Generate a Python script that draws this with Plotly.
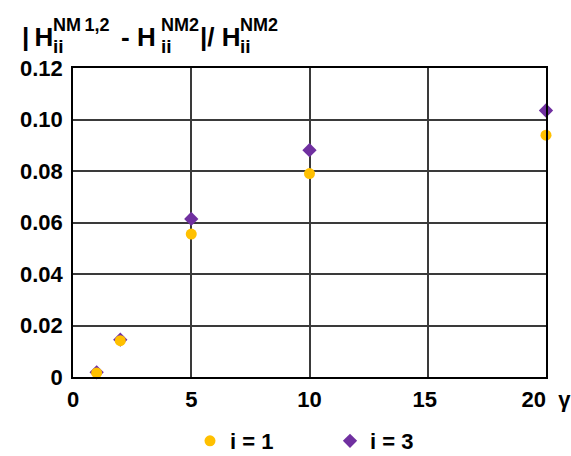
import plotly.graph_objects as go

gamma = [1, 2, 5, 10, 20]
i1_vals = [0.0016, 0.0141, 0.0555, 0.0790, 0.0939]
i3_vals = [0.0018, 0.0145, 0.0614, 0.0881, 0.1035]
x_ticks = [0, 5, 10, 15, 20]
x_ticktext = ["0", "5", "10", "15\u00a0", "20\u00a0 γ"]
y_ticks = [0, 0.02, 0.04, 0.06, 0.08, 0.10, 0.12]
y_ticktext = ["0", "0.02", "0.04", "0.06", "0.08", "0.10", "0.12"]

FONT = "Liberation Sans, Arial, sans-serif"
L, R, T, B = 73, 25, 68, 79
W, H = 571, 456

fig = go.Figure()
fig.add_trace(go.Scatter(
    x=gamma, y=i3_vals, mode="markers", name="i = 3", legendrank=2,
    marker=dict(symbol="diamond", size=11, color="#7030a0"), cliponaxis=False))
fig.add_trace(go.Scatter(
    x=gamma, y=i1_vals, mode="markers", name="i = 1", legendrank=1,
    marker=dict(symbol="circle", size=11, color="#ffc000"), cliponaxis=False))

def ann(text, px, py, size, **kw):
    fig.add_annotation(text=text, x=0, y=1, xref="paper", yref="paper",
                       xshift=px - L, yshift=T - py, xanchor="left", yanchor="middle",
                       showarrow=False, borderpad=0,
                       font=dict(family=FONT, size=size, color="black", weight="bold"), **kw)

# stacked super/subscripts for the y-axis title
ann("|\u2009H", 21, 37, 26)
ann("NM\u20091,2", 52, 25, 18)
ann("ii", 52, 46, 19)
ann("- H", 120, 37, 26)
ann("NM2", 160, 25, 18)
ann("ii", 160, 46, 19)
ann("|/ H", 199, 37, 26)
ann("NM2", 239, 25, 18)
ann("ii", 239, 46, 19)

fig.update_layout(
    width=W, height=H,
    margin=dict(l=L, r=R, t=T, b=B, autoexpand=False),
    paper_bgcolor="white", plot_bgcolor="white",
    font=dict(family=FONT, size=22, color="black", weight="bold"),
    showlegend=True,
    legend=dict(orientation="h", x=(190 - L) / (W - L - R), xanchor="left",
                y=(H - B - 441) / (H - T - B), yanchor="middle",
                font=dict(family=FONT, size=22, color="black", weight="bold"),
                entrywidth=95, entrywidthmode="pixels", itemwidth=30),
    xaxis=dict(range=[0, 20], tickvals=x_ticks, ticktext=x_ticktext,
               ticklabeloverflow="allow",
               showgrid=True, gridcolor="#3a3a3a", gridwidth=1.5,
               showline=True, linecolor="black", linewidth=1.5, mirror=True,
               ticks="", zeroline=False, ticklabelstandoff=2,
               tickfont=dict(family=FONT, size=22, color="black", weight="bold")),
    yaxis=dict(range=[0, 0.12], tickvals=y_ticks, ticktext=y_ticktext,
               showgrid=True, gridcolor="#3a3a3a", gridwidth=1.5,
               showline=True, linecolor="black", linewidth=1.5, mirror=True,
               ticks="", zeroline=False, ticklabelstandoff=4,
               tickfont=dict(family=FONT, size=22, color="black", weight="bold")),
)

fig.write_html("out.html")
